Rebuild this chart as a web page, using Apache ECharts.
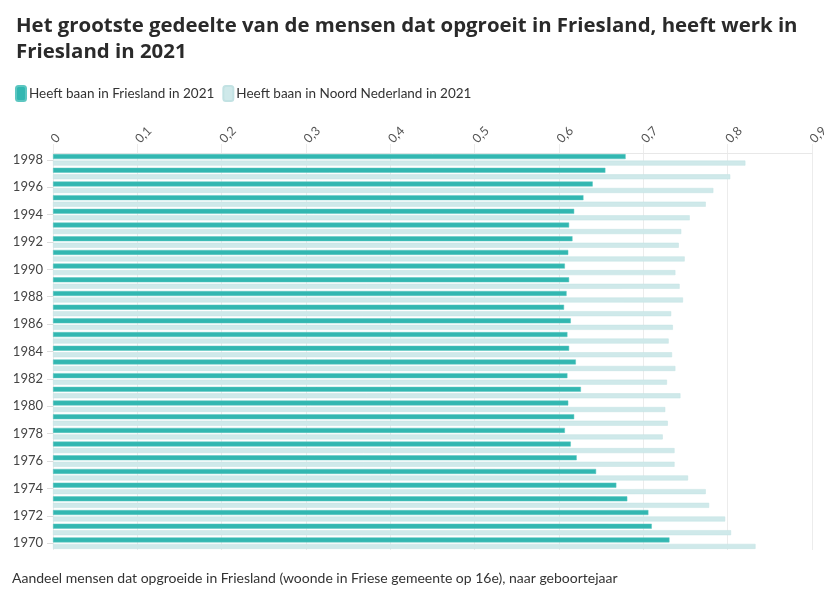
<!DOCTYPE html>
<html>
<head>
<meta charset="utf-8">
<script src="https://cdn.jsdelivr.net/npm/echarts@6/dist/echarts.min.js"></script>
<style>
  html, body { margin: 0; padding: 0; background: #fff; }
  #main { width: 824px; height: 589px; }
</style>
</head>
<body>
<div id="main"></div>
<script>
var years = ['1998','1997','1996','1995','1994','1993','1992','1991','1990','1989',
             '1988','1987','1986','1985','1984','1983','1982','1981','1980','1979',
             '1978','1977','1976','1975','1974','1973','1972','1971','1970'];

// Heeft baan in Friesland in 2021
var friesland = [0.679, 0.655, 0.640, 0.629, 0.618, 0.612, 0.616, 0.611, 0.607, 0.612,
                 0.609, 0.606, 0.614, 0.610, 0.612, 0.620, 0.610, 0.626, 0.611, 0.618,
                 0.607, 0.614, 0.621, 0.644, 0.668, 0.681, 0.706, 0.710, 0.731];

// Heeft baan in Noord Nederland in 2021
var noordNL = [0.821, 0.803, 0.783, 0.774, 0.755, 0.745, 0.742, 0.749, 0.738, 0.743,
               0.747, 0.733, 0.735, 0.730, 0.734, 0.738, 0.728, 0.744, 0.726, 0.729,
               0.723, 0.737, 0.737, 0.753, 0.774, 0.778, 0.797, 0.804, 0.833];

var xTicks = { min: 0, max: 0.9, interval: 0.1 };

var myChart = echarts.init(document.getElementById('main'));
var font = 'Lato, "Noto Sans", sans-serif';

var option = {
    textStyle: { fontFamily: font },
    title: {
        text: 'Het grootste gedeelte van de mensen dat opgroeit in Friesland, heeft werk in\nFriesland in 2021',
        left: 11,
        top: 8,
        textStyle: {
            fontFamily: '"Open Sans", sans-serif',
            fontSize: 20.4,
            fontWeight: 'bold',
            color: '#2a2a2a',
            lineHeight: 26
        }
    },
    legend: {
        left: 10,
        top: 80,
        itemWidth: 10,
        itemHeight: 15,
        itemGap: 8,
        icon: 'roundRect',
        textStyle: { fontSize: 13.5, color: '#333', padding: [0, 0, 0, -2] },
        data: ['Heeft baan in Friesland in 2021', 'Heeft baan in Noord Nederland in 2021']
    },
    grid: {
        left: 53,
        right: 12,
        top: 153,
        bottom: 39,
        containLabel: false,
        outerBoundsMode: 'none'
    },
    xAxis: {
        type: 'value',
        position: 'top',
        min: xTicks.min,
        max: xTicks.max,
        interval: xTicks.interval,
        axisLine: { show: true, lineStyle: { color: '#e8e8e8' } },
        axisTick: { show: true, length: 9, lineStyle: { color: '#ececec' } },
        splitLine: { show: true, lineStyle: { color: '#ececec' } },
        axisLabel: {
            rotate: -45,
            margin: 12,
            fontSize: 12.5,
            color: '#555',
            formatter: function (v) { return String(Math.round(v * 10) / 10).replace('.', ','); }
        }
    },
    yAxis: {
        type: 'category',
        inverse: true,
        data: years,
        axisLine: { show: false },
        axisTick: { show: true, alignWithLabel: true, length: 6, lineStyle: { color: '#ddd' } },
        axisLabel: { interval: 1, fontSize: 13, color: '#444', margin: 10 }
    },
    series: [
        {
            name: 'Heeft baan in Friesland in 2021',
            type: 'bar',
            data: friesland,
            barWidth: 5,
            barGap: '30%',
            itemStyle: { color: '#32b7b1', borderColor: '#5cc6c1', borderWidth: 0.5 }
        },
        {
            name: 'Heeft baan in Noord Nederland in 2021',
            type: 'bar',
            data: noordNL,
            barWidth: 5,
            itemStyle: { color: '#cfe9ea', borderColor: '#c2e2e3', borderWidth: 0.5 }
        }
    ],
    graphic: [
        {
            type: 'text',
            left: 12,
            top: 571,
            style: {
                text: 'Aandeel mensen dat opgroeide in Friesland (woonde in Friese gemeente op 16e), naar geboortejaar',
                fontFamily: font,
                fontSize: 14,
                fill: '#333'
            }
        }
    ]
};
myChart.setOption(option);
</script>
</body>
</html>
